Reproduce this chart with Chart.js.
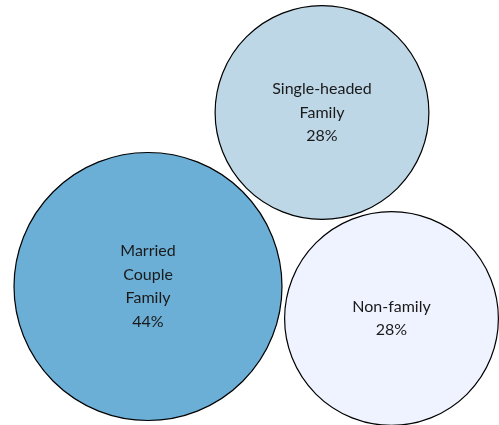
<!DOCTYPE html>
<html>
<head>
<meta charset="utf-8">
<script src="https://cdn.jsdelivr.net/npm/chart.js@4"></script>
<style>
  html, body { margin: 0; padding: 0; background: #fff; overflow: hidden; }
  #chart { display: block; }
</style>
</head>
<body>
<canvas id="chart" width="499" height="425"></canvas>
<script>
// household types and their share (%)
const categories = ['Married\nCouple\nFamily', 'Single-headed\nFamily', 'Non-family'];
const shares = [44, 28, 28];
// packed-circle layout centres (layout units)
const centreX = [148, 322, 391.5];
const centreY = [286.5, 112.5, 318.5];
const colors = ['#6baed6', '#bdd7e7', '#eff3ff'];

const radiusScale = 20.2; // px per sqrt(share)

const bubbleLabels = {
  id: 'bubbleLabels',
  afterDatasetsDraw(chart) {
    const ctx = chart.ctx;
    const meta = chart.getDatasetMeta(0);
    ctx.save();
    ctx.fillStyle = '#1a1a1a';
    ctx.font = '16px Lato';
    ctx.textAlign = 'center';
    ctx.textBaseline = 'middle';
    meta.data.forEach((pt, i) => {
      const lines = categories[i].split('\n').concat(shares[i] + '%');
      const lh = 23.5;
      const top = pt.y - (lines.length - 1) * lh / 2;
      lines.forEach((l, j) => ctx.fillText(l, pt.x, top + j * lh));
    });
    ctx.restore();
  }
};

new Chart(document.getElementById('chart'), {
  type: 'bubble',
  data: {
    datasets: [{
      data: shares.map((s, i) => ({ x: centreX[i], y: centreY[i], r: radiusScale * Math.sqrt(s) })),
      backgroundColor: colors,
      borderColor: '#000',
      borderWidth: 1.2,
      clip: false
    }]
  },
  options: {
    responsive: false,
    animation: false,
    layout: { padding: 0, autoPadding: false },
    scales: {
      x: { type: 'linear', min: 0, max: 499, display: false },
      y: { type: 'linear', min: 0, max: 425, reverse: true, display: false }
    },
    plugins: {
      legend: { display: false },
      tooltip: { enabled: false }
    }
  },
  plugins: [bubbleLabels]
});
</script>
</body>
</html>
